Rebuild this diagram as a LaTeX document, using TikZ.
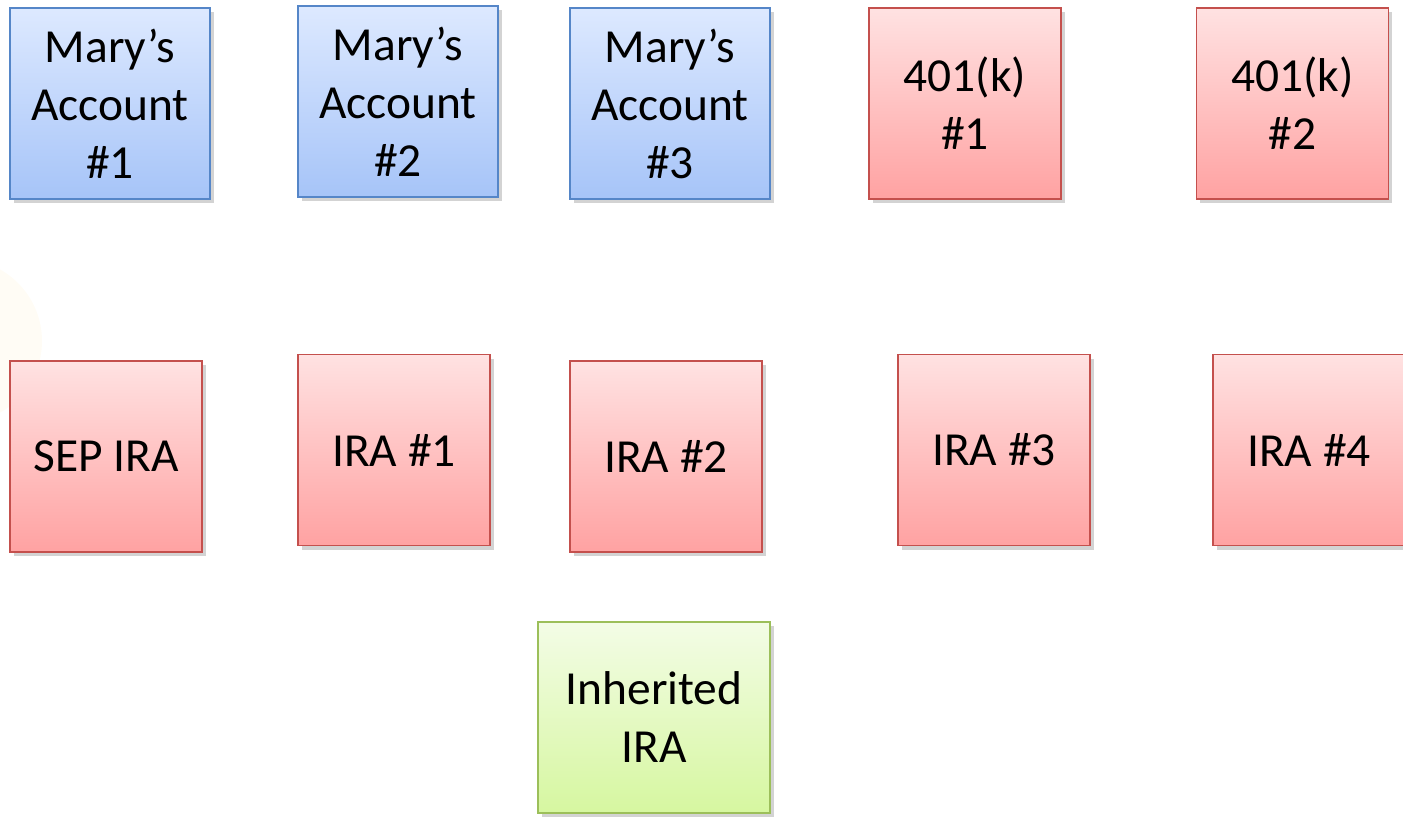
\documentclass[tikz,border=0pt]{standalone}
\usepackage{fontspec}
\setmainfont{Carlito}
\usetikzlibrary{shadows}
\definecolor{acctTop}{HTML}{DDE9FF}
\definecolor{acctBot}{HTML}{A6C4F8}
\definecolor{acctLine}{HTML}{5586C8}
\definecolor{retTop}{HTML}{FFE2E2}
\definecolor{retBot}{HTML}{FFA2A2}
\definecolor{retLine}{HTML}{C4504D}
\definecolor{inhTop}{HTML}{F3FCE6}
\definecolor{inhBot}{HTML}{D6F7A0}
\definecolor{inhLine}{HTML}{9CBF5A}
\definecolor{haze}{HTML}{FFFCF5}
\tikzset{
  box/.style={
    draw, rectangle, line width=0.9pt,
    minimum width=192*0.02cm, minimum height=191*0.02cm,
    align=center, inner sep=0pt,
    font=\fontsize{27}{33}\selectfont,
    drop shadow={shadow xshift=2pt, shadow yshift=-2.5pt, opacity=0.35}
  },
  acct/.style={box, draw=acctLine, top color=acctTop, bottom color=acctBot,
    minimum width=200*0.02cm},
  ret/.style={box, draw=retLine, top color=retTop, bottom color=retBot},
  inh/.style={box, draw=inhLine, top color=inhTop, bottom color=inhBot,
    minimum width=232*0.02cm},
}

\begin{document}
\begin{tikzpicture}[x=0.02cm, y=-0.02cm]
  \useasboundingbox (0,0) rectangle (1403,818);

  % faint circle behind the left column
  \fill[haze] (-40,341) circle[radius=82];

  % top row
  \node[acct] (mary1) at (110,103.5) {Mary’s\\Account\\\#1};
  \node[acct] (mary2) at (398,101.5) {Mary’s\\Account\\\#2};
  \node[acct] (mary3) at (670,103.5) {Mary’s\\Account\\\#3};
  \node[ret]  (k1)    at (965,103.5) {401(k)\\\#1};
  \node[ret]  (k2)    at (1292.5,103.5) {401(k)\\\#2};

  % middle row
  \node[ret] (sep)  at (106,456.5) {SEP IRA};
  \node[ret] (ira1) at (394,450) {IRA \#1};
  \node[ret] (ira2) at (666,456.5) {IRA \#2};
  \node[ret] (ira3) at (994,450) {IRA \#3};
  \node[ret] (ira4) at (1309,450) {IRA \#4};

  % bottom
  \node[inh] (inh) at (654,717.5) {Inherited\\IRA};
\end{tikzpicture}
\end{document}
